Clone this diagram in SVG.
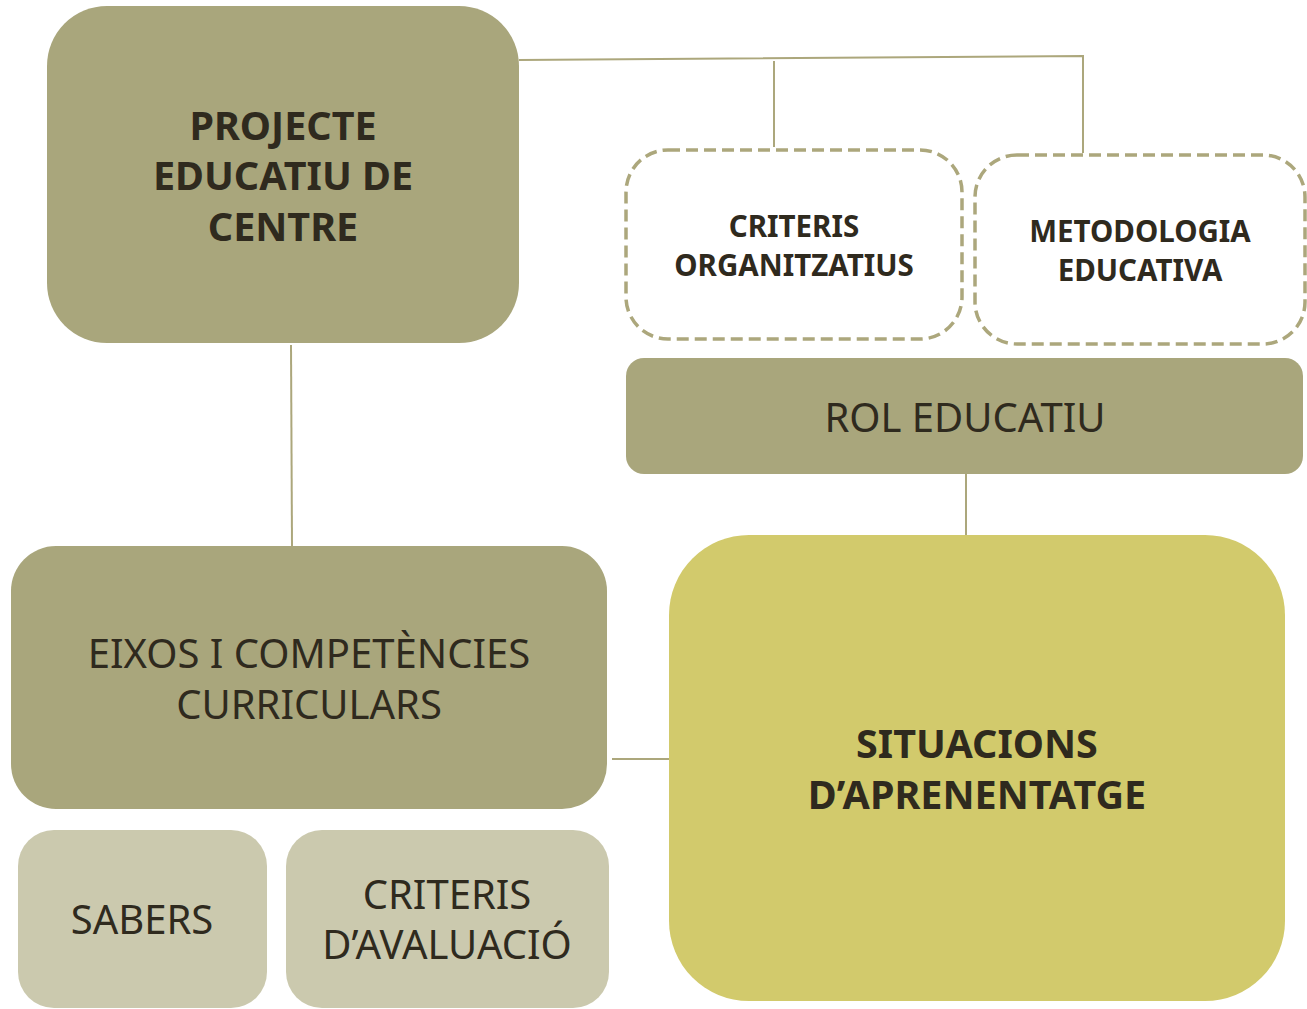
<svg xmlns="http://www.w3.org/2000/svg" width="1307" height="1009" viewBox="0 0 1307 1009">
<style>
.dark{fill:#a9a67c}
.light{fill:#cbc9ae}
.yellow{fill:#d2ca6c}
.dash{fill:#ffffff;stroke:#aca77c;stroke-width:3.5;stroke-dasharray:12 6}
.conn{fill:none;stroke:#aca77c;stroke-width:2}
text{font-family:"Noto Sans","Open Sans",sans-serif;fill:#2f2a1e;text-anchor:middle}
.b{font-weight:bold}
.big{font-size:39.5px}
.sm{font-size:29.5px}
.reg{font-size:40px}
</style>
<rect width="1307" height="1009" fill="#ffffff"/>
<g id="connectors">
<polyline class="conn" points="519,60 1083,56 1083,153"/>
<line class="conn" x1="774" y1="61" x2="774" y2="147"/>
<line class="conn" x1="291" y1="345" x2="292" y2="546"/>
<line class="conn" x1="966" y1="474" x2="966" y2="542"/>
<line class="conn" x1="612" y1="759" x2="670" y2="759"/>
</g>
<g id="projecte">
<rect class="dark" x="47" y="6" width="472" height="337" rx="60"/>
<text class="b big" x="283" y="140">PROJECTE</text>
<text class="b big" x="283" y="190">EDUCATIU DE</text>
<text class="b big" x="283" y="241">CENTRE</text>
</g>
<g id="criteris-org">
<rect class="dash" x="626" y="150" width="336" height="189" rx="42"/>
<text class="b sm" x="794" y="237">CRITERIS</text>
<text class="b sm" x="794" y="276">ORGANITZATIUS</text>
</g>
<g id="metodologia">
<rect class="dash" x="975" y="155" width="330" height="189" rx="42"/>
<text class="b sm" x="1140" y="242">METODOLOGIA</text>
<text class="b sm" x="1140" y="281">EDUCATIVA</text>
</g>
<g id="rol">
<rect class="dark" x="626" y="358" width="677" height="116" rx="18"/>
<text class="reg" x="965" y="432">ROL EDUCATIU</text>
</g>
<g id="eixos">
<rect class="dark" x="11" y="546" width="596" height="263" rx="45"/>
<text class="reg" x="309" y="668">EIXOS I COMPETÈNCIES</text>
<text class="reg" x="309" y="719">CURRICULARS</text>
</g>
<g id="situacions">
<rect class="yellow" x="669" y="535" width="616" height="466" rx="80"/>
<text class="b big" x="977" y="758">SITUACIONS</text>
<text class="b big" x="977" y="809">D’APRENENTATGE</text>
</g>
<g id="sabers">
<rect class="light" x="18" y="830" width="249" height="178" rx="36"/>
<text class="reg" x="142" y="934">SABERS</text>
</g>
<g id="criteris-aval">
<rect class="light" x="286" y="830" width="323" height="178" rx="36"/>
<text class="reg" x="447" y="909">CRITERIS</text>
<text class="reg" x="447" y="959">D’AVALUACIÓ</text>
</g>
</svg>
